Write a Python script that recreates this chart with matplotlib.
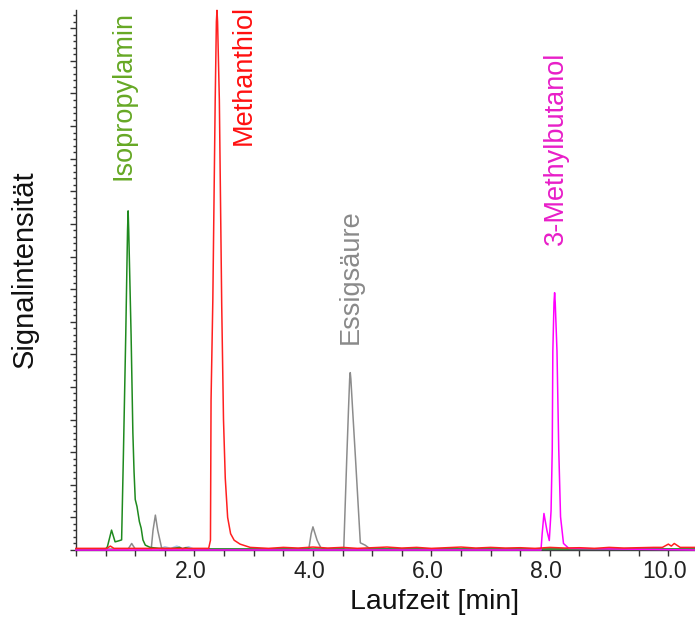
import matplotlib
matplotlib.use("Agg")
import matplotlib.pyplot as plt
from matplotlib.ticker import MultipleLocator, FixedLocator
from matplotlib.transforms import ScaledTranslation

plt.rcParams['font.family'] = ['Liberation Sans', 'DejaVu Sans']

# ---------------- data ----------------
green_t = [0.0, 0.50, 0.53, 0.60, 0.66, 0.72, 0.77, 0.80, 0.84, 0.87, 0.88, 0.89, 0.93, 0.96,
           0.98, 1.00, 1.03, 1.07, 1.10, 1.13, 1.17, 1.25, 1.40, 1.60, 1.75, 1.80, 1.85, 1.95, 10.45]
green_v = [0.03, 0.03, 0.10, 0.61, 0.25, 0.28, 0.31, 2.9, 6.6, 9.8, 10.4, 9.8, 6.6, 3.6,
           2.4, 1.55, 1.33, 0.87, 0.67, 0.31, 0.15, 0.08, 0.05, 0.04, 0.08, 0.03, 0.07, 0.03, 0.03]

gray_t = [0.0, 0.88, 0.94, 1.00, 1.27, 1.30, 1.34, 1.38, 1.45, 1.55, 3.93, 3.97, 4.00, 4.07,
          4.13, 4.20, 4.52, 4.57, 4.60, 4.62, 4.63, 4.64, 4.67, 4.72, 4.80, 4.88, 4.97, 10.45]
gray_v = [0.03, 0.03, 0.20, 0.03, 0.03, 0.60, 1.07, 0.60, 0.03, 0.03, 0.03, 0.50, 0.71, 0.30,
          0.08, 0.03, 0.03, 2.76, 4.30, 5.25, 5.44, 5.25, 4.30, 2.76, 0.22, 0.15, 0.03, 0.03]

red_t = [0.0, 0.52, 0.58, 0.64, 2.24, 2.27, 2.28, 2.31, 2.35, 2.37, 2.38, 2.39, 2.42, 2.46,
         2.49, 2.52, 2.56, 2.61, 2.67, 2.77, 2.94, 3.25, 3.5, 3.75, 4.0, 4.25, 4.5, 4.75, 5.0,
         5.25, 5.5, 5.75, 6.0, 6.25, 6.5, 6.75, 7.0, 7.25, 7.5, 7.75, 8.0, 8.25, 8.5, 8.75,
         9.0, 9.25, 9.5, 9.75, 9.9, 10.0, 10.05, 10.1, 10.2, 10.45]
red_v = [0.05, 0.05, 0.12, 0.05, 0.05, 0.30, 4.6, 7.67, 13.8, 16.2, 16.55, 16.2, 13.8, 7.5,
         4.0, 2.2, 1.0, 0.5, 0.30, 0.18, 0.08, 0.05, 0.08, 0.06, 0.09, 0.06, 0.08, 0.05, 0.07,
         0.09, 0.06, 0.08, 0.05, 0.07, 0.09, 0.06, 0.08, 0.06, 0.07, 0.05, 0.08, 0.06, 0.07, 0.05,
         0.08, 0.06, 0.07, 0.08, 0.08, 0.18, 0.12, 0.20, 0.08, 0.08]

mag_t = [0.0, 7.85, 7.87, 7.90, 7.95, 7.99, 8.02, 8.04, 8.05, 8.07, 8.08, 8.09, 8.12, 8.15,
         8.18, 8.23, 8.32, 10.45]
mag_v = [0.0, 0.0, 0.5, 1.12, 0.60, 0.29, 1.2, 3.07, 6.1, 7.6, 7.89, 7.6, 6.1, 3.07,
         1.02, 0.20, 0.05, 0.0]

blue_t = [0.0, 1.40, 1.50, 1.60, 1.70, 1.80, 1.90, 2.00, 10.45]
blue_v = [0.02, 0.02, 0.10, 0.05, 0.12, 0.05, 0.10, 0.02, 0.02]

labels = ["Isopropylamin", "Methanthiol", "Essigsäure", "3-Methylbutanol"]
label_x = [0.795, 2.825, 4.635, 8.10]
label_y = [11.35, 12.42, 6.32, 9.36]
label_colors = ["#66a825", "#ff1010", "#8a8a8a", "#e81ec8"]

x_major = [2.0, 4.0, 6.0, 8.0, 10.0]
x_major_labels = ["2.0", "4.0", "6.0", "8.0", "10.0"]

# ---------------- figure ----------------
fig = plt.figure(figsize=(6.95, 6.19), dpi=100)
ax = fig.add_axes([76/695, 69/619, 1 - 76/695, (550 - 10)/619])

lw = 1.1
ax.plot(blue_t, blue_v, color="#a8c8f0", lw=lw, zorder=3, clip_on=False)
ax.plot(gray_t, gray_v, color="#8c8c8c", lw=lw, zorder=3, clip_on=False)
ax.plot(green_t, green_v, color="#1f8a1f", lw=lw, zorder=3, clip_on=False)
ax.plot(mag_t, mag_v, color="#ff00ff", lw=lw, zorder=3, clip_on=False)
ax.plot(red_t, red_v, color="#ff2020", lw=lw, zorder=3, clip_on=False)

for txt, x, y, c in zip(labels, label_x, label_y, label_colors):
    ax.text(x, y, txt, rotation=90, ha="center", va="bottom", color=c, fontsize=19.5)

ax.set_xlim(0, 10.45)
ax.set_ylim(0, 16.56)

for s in ["top", "right"]:
    ax.spines[s].set_visible(False)
for s in ["left", "bottom"]:
    ax.spines[s].set_color("#333333")
    ax.spines[s].set_linewidth(1.0)

ax.xaxis.set_major_locator(FixedLocator(x_major))
ax.set_xticklabels(x_major_labels)
ax.xaxis.set_minor_locator(MultipleLocator(0.5))
ax.yaxis.set_major_locator(MultipleLocator(1.0))
ax.yaxis.set_minor_locator(MultipleLocator(0.2))
ax.set_yticklabels([])

ax.tick_params(axis="x", which="major", direction="out", length=4, width=1, color="#333333",
               labelsize=16.5, pad=3, labelcolor="#222222")
ax.tick_params(axis="x", which="minor", direction="out", length=4, width=1, color="#333333")
ax.tick_params(axis="y", which="major", direction="out", length=4, width=1, color="#333333")
ax.tick_params(axis="y", which="minor", direction="out", length=2.5, width=1, color="#333333")

shift = ScaledTranslation(-4/100, 0, fig.dpi_scale_trans)
for lab in ax.get_xticklabels():
    lab.set_transform(lab.get_transform() + shift)

fig.text(435/695, 10/619, "Laufzeit [min]", ha="center", va="baseline", fontsize=20.5, color="#111111")
fig.text(25/695, (619 - 269)/619, "Signalintensität", rotation=90, ha="center", va="center",
         fontsize=21, color="#111111")

fig.savefig("out.png", dpi=100)
